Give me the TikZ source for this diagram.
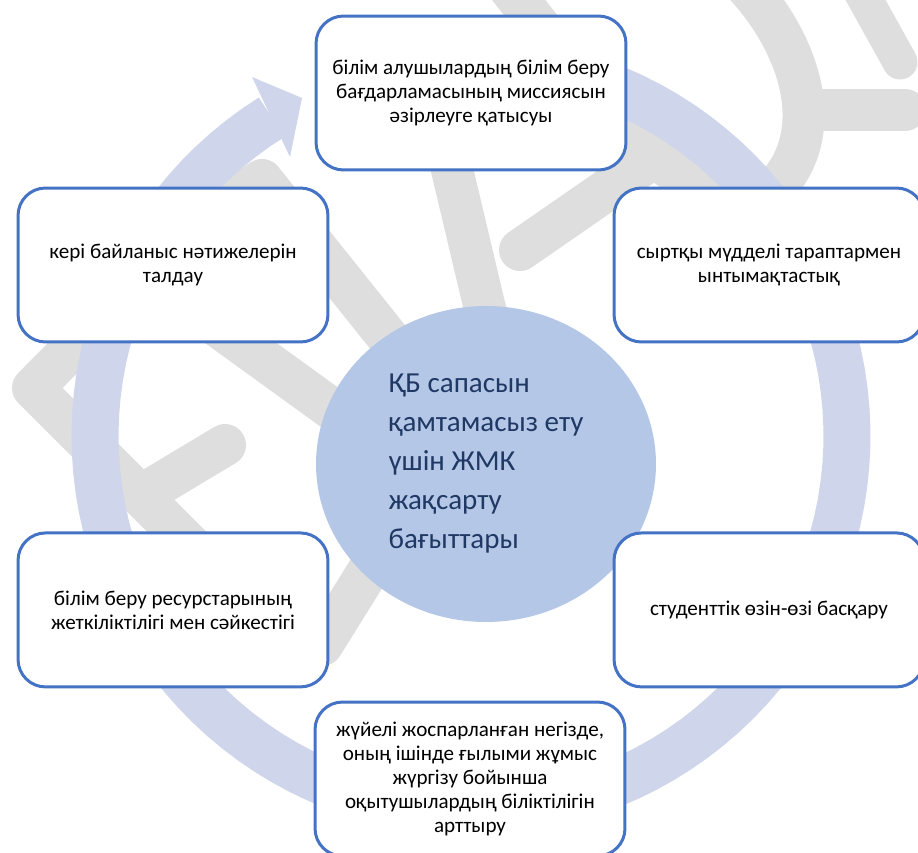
\documentclass[tikz,border=0pt]{standalone}
\usepackage{fontspec}
\setmainfont{Carlito}
\usetikzlibrary{positioning, shapes.geometric}

\definecolor{boxblue}{HTML}{4472C4}
\definecolor{hubblue}{HTML}{B4C7E7}
\definecolor{hubtext}{HTML}{203864}
\definecolor{ringblue}{HTML}{CFD5EA}
\definecolor{wmgray}{HTML}{DEDEDE}

\begin{document}
\begin{tikzpicture}[x=0.02cm, y=-0.02cm,
  stagebox/.style={draw=boxblue, line width=1.7pt, rounded corners=0.55cm, fill=white,
    minimum width=6.2cm, minimum height=3.08cm, align=center,
    font=\fontsize{12}{13.6}\selectfont},
  hub/.style={ellipse, fill=hubblue, minimum width=6.8cm, minimum height=6.32cm,
    align=left, text=hubtext, font=\fontsize{16.5}{22.2}\selectfont},
  loopring/.style={draw=ringblue, line width=0.94cm},
  wmark/.style={draw=wmgray, line width=0.84cm, line cap=round, line join=round}
]
\clip (0,0) rectangle (918,852);

% watermark strokes in the background
\draw[wmark] (503,-20) -- (627,138) -- (800,260);
\draw[wmark] (745,-15) .. controls (805,50) and (835,150) .. (755,205);
\draw[wmark] (810,110) -- (905,110);
\draw[wmark, line width=0.7cm] (860,-10) -- (900,62);
\draw[wmark] (140,260) -- (262,180) -- (430,390);
\draw[wmark] (140,270) -- (430,480);
\draw[wmark] (120,300) -- (33,388) -- (200,555);
\draw[wmark] (150,490) -- (225,445);
\draw[wmark] (400,520) -- (322,645);
\draw[wmark] (445,140) -- (490,330);
\draw[wmark] (520,250) -- (650,160);

% circular arrow
\draw[loopring] plot[domain=-238:105, samples=120] ({471+376*cos(\x)}, {436-376*sin(\x)});
\fill[ringblue] (252,77) -- (302,98) -- (290,157) -- cycle;

% central topic
\node[hub] (hub) at (486,464) {ҚБ сапасын\\қамтамасыз ету\\үшін ЖМК\\жақсарту\\бағыттары};

% directions round the hub
\node[stagebox] (mission) at (471,93) {білім алушылардың білім беру\\бағдарламасының миссиясын\\әзірлеуге қатысуы};
\node[stagebox] (feedback) at (173,265) {кері байланыс нәтижелерін\\талдау};
\node[stagebox] (partners) at (769,265) {сыртқы мүдделі тараптармен\\ынтымақтастық};
\node[stagebox, below=3.76cm of feedback] (resources) {білім беру ресурстарының\\жеткіліктілігі мен сәйкестігі};
\node[stagebox, below=3.76cm of partners] (selfgov) {студенттік өзін-өзі басқару};
\node[stagebox] (staff) at (470,779) {жүйелі жоспарланған негізде,\\оның ішінде ғылыми жұмыс\\жүргізу бойынша\\оқытушылардың біліктілігін\\арттыру};

\end{tikzpicture}
\end{document}
